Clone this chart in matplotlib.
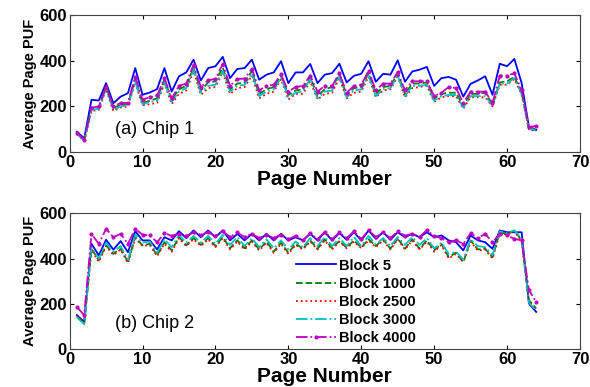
import numpy as np
from matplotlib import pyplot as plt

plt.rcParams['font.family'] = ['Liberation Sans', 'DejaVu Sans']

pages = np.arange(1, 65)
labels = ["Block 5", "Block 1000", "Block 2500", "Block 3000", "Block 4000"]

# chip 1
c1_b5 = [89, 60, 229, 226, 302, 214, 243, 258, 368, 251, 261, 276, 368, 265, 332, 349,
         405, 314, 368, 376, 417, 324, 364, 368, 405, 317, 339, 349, 398, 302, 349, 349,
         386, 302, 339, 346, 387, 305, 334, 343, 398, 308, 343, 339, 402, 308, 353, 361,
         373, 290, 324, 329, 317, 243, 299, 314, 332, 251, 387, 376, 408, 302, 111, 97]
c1_b1000 = [82, 52, 190, 195, 290, 195, 205, 210, 320, 215, 225, 235, 315, 230, 275, 290,
            370, 270, 305, 310, 370, 275, 300, 305, 355, 255, 275, 285, 335, 250, 270, 275,
            330, 245, 275, 285, 340, 250, 280, 285, 345, 255, 285, 290, 345, 255, 300, 300,
            305, 235, 255, 260, 260, 200, 255, 255, 260, 210, 305, 310, 330, 260, 100, 95]
c1_b2500 = [78, 48, 180, 185, 275, 180, 195, 200, 305, 205, 210, 215, 300, 210, 255, 270,
            355, 250, 280, 285, 350, 255, 280, 285, 335, 235, 255, 265, 320, 230, 255, 255,
            310, 230, 255, 260, 325, 235, 260, 265, 330, 240, 270, 275, 330, 240, 280, 285,
            290, 220, 240, 245, 245, 190, 240, 240, 240, 200, 295, 295, 320, 250, 100, 92]
c1_b3000 = [80, 50, 185, 190, 280, 185, 200, 205, 310, 210, 220, 225, 305, 220, 265, 280,
            360, 260, 290, 295, 355, 265, 290, 295, 345, 245, 265, 275, 325, 240, 260, 265,
            320, 235, 265, 270, 330, 240, 270, 275, 335, 245, 275, 280, 335, 245, 290, 290,
            295, 225, 245, 250, 250, 195, 245, 245, 245, 205, 300, 300, 325, 255, 105, 95]
c1_b4000 = [85, 55, 195, 200, 285, 200, 215, 215, 331, 230, 240, 248, 324, 235, 290, 300,
            383, 285, 315, 320, 386, 290, 320, 322, 365, 270, 290, 295, 340, 265, 285, 290,
            335, 265, 290, 290, 345, 260, 290, 295, 355, 270, 300, 300, 350, 270, 310, 310,
            310, 245, 260, 285, 280, 215, 265, 265, 265, 215, 335, 335, 345, 270, 110, 114]

# chip 2
c2_b5 = [150, 120, 465, 414, 483, 439, 477, 428, 521, 480, 480, 440, 494, 480, 521, 490,
         524, 494, 524, 494, 524, 480, 509, 480, 509, 480, 509, 480, 509, 480, 494, 480,
         509, 480, 516, 480, 512, 483, 516, 480, 524, 487, 516, 483, 516, 494, 509, 494,
         516, 494, 502, 480, 472, 436, 502, 480, 472, 443, 524, 516, 516, 516, 201, 164]
c2_b1000 = [145, 113, 443, 392, 458, 421, 443, 384, 494, 458, 465, 414, 472, 436, 494, 458,
            490, 460, 490, 455, 495, 445, 480, 445, 480, 440, 475, 430, 470, 425, 465, 443,
            480, 443, 485, 445, 478, 448, 480, 448, 485, 455, 485, 443, 490, 443, 485, 443,
            480, 436, 465, 406, 426, 384, 480, 440, 443, 406, 516, 509, 524, 480, 216, 179]
c2_b2500 = [145, 115, 440, 385, 455, 415, 440, 380, 490, 455, 460, 410, 465, 430, 490, 455,
            485, 455, 485, 450, 490, 440, 475, 440, 475, 435, 470, 425, 465, 420, 460, 440,
            475, 440, 480, 440, 475, 445, 475, 445, 480, 450, 480, 440, 485, 440, 480, 440,
            475, 430, 460, 400, 420, 385, 475, 435, 440, 400, 512, 505, 520, 475, 210, 175]
c2_b3000 = [140, 110, 450, 400, 470, 430, 455, 395, 505, 470, 475, 425, 485, 450, 505, 470,
            500, 470, 500, 465, 505, 460, 495, 455, 490, 450, 485, 445, 480, 440, 475, 450,
            490, 455, 495, 455, 490, 455, 495, 455, 500, 462, 490, 455, 495, 460, 495, 460,
            490, 445, 470, 420, 430, 395, 485, 455, 450, 415, 520, 512, 524, 490, 205, 170]
c2_b4000 = [186, 150, 509, 465, 531, 494, 509, 465, 531, 505, 502, 472, 512, 500, 510, 500,
            515, 505, 515, 500, 520, 495, 515, 495, 510, 490, 505, 490, 505, 485, 500, 480,
            512, 485, 518, 485, 515, 490, 520, 485, 525, 495, 515, 490, 520, 500, 510, 495,
            525, 500, 490, 472, 480, 465, 512, 490, 509, 472, 509, 502, 487, 480, 260, 208]

styles = [
    dict(color=(0, 0, 1), ls='-'),
    dict(color=(0, 0.5, 0), ls='--'),
    dict(color=(1, 0, 0), ls=':'),
    dict(color=(0, 0.75, 0.75), ls='-.'),
    dict(color=(0.75, 0, 0.75), ls='-.', marker='.', markersize=4),
]

fig = plt.figure(figsize=(5.9, 3.87), dpi=100)
ax1 = fig.add_axes([0.118, 0.607, 0.865, 0.354])
ax2 = fig.add_axes([0.118, 0.098, 0.865, 0.351])

for ax, series, note, ny in [
        (ax1, [c1_b5, c1_b1000, c1_b2500, c1_b3000, c1_b4000], "(a) Chip 1", 100),
        (ax2, [c2_b5, c2_b1000, c2_b2500, c2_b3000, c2_b4000], "(b) Chip 2", 114)]:
    for y, st, lab in zip(series, styles, labels):
        ax.plot(pages, y, lw=1.3, label=lab, **st)
    ax.set_xlim(0, 70)
    ax.set_ylim(0, 600)
    ax.set_xticks(range(0, 71, 10))
    ax.set_yticks([0, 200, 400, 600])
    ax.tick_params(direction='in', top=True, right=True, length=3, labelsize=12, pad=2)
    for t in ax.get_xticklabels() + ax.get_yticklabels():
        t.set_fontweight('bold')
    for s in ax.spines.values():
        s.set_color('#444444')
    ax.set_xlabel("Page Number", fontsize=15, fontweight='bold', labelpad=0)
    ax.set_ylabel("Average Page PUF", fontsize=10.5, fontweight='bold', labelpad=2)
    ax.text(6.2, ny, note, fontsize=13, va='center')

ax2.legend(loc='upper left', bbox_to_anchor=(0.43, 0.72), frameon=False,
           prop=dict(weight='bold', size=10.5), labelspacing=0.28,
           handlelength=2.7, handletextpad=0.2, borderpad=0)

fig.savefig("out.png", dpi=100)
